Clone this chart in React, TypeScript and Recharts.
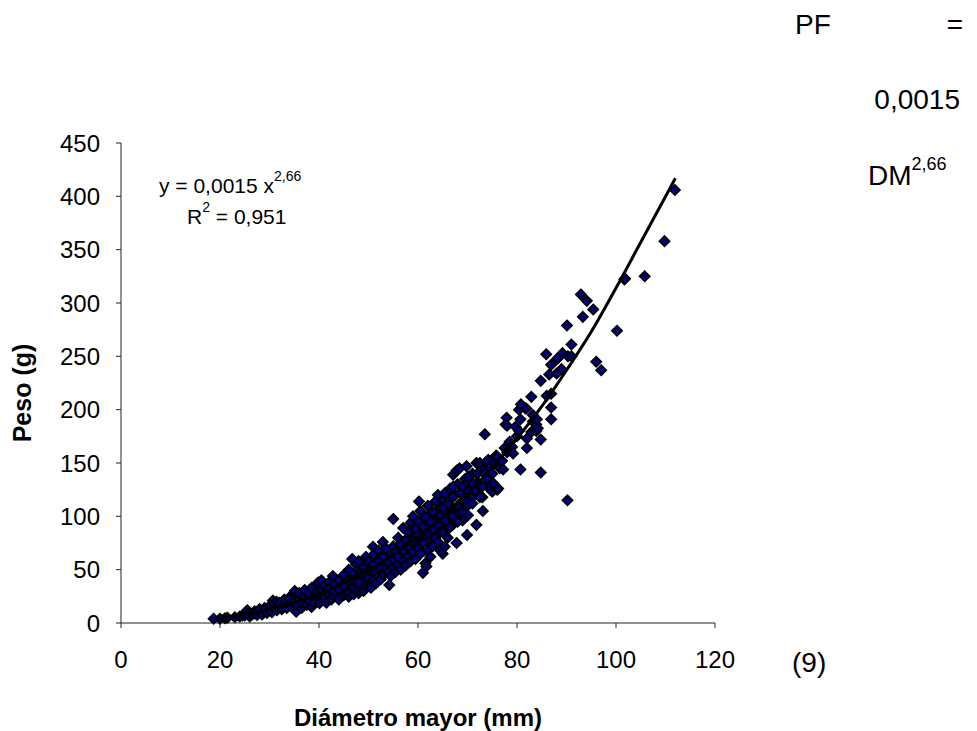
import React from 'react';
import { ScatterChart, Scatter, XAxis, YAxis } from 'recharts';

// Diámetro mayor (mm) vs Peso (g)
const puntosA: [number, number][] = [
  [18.7, 4], [20, 4], [21, 4.5], [21.5, 5], [23, 5.3], [24, 6], [24.5, 7], [25, 7], [25.3, 9], [25.5, 12],
  [26, 6], [26, 10], [26.5, 8], [27, 11], [27, 9], [27.5, 7.5], [28, 10], [28, 13], [28.5, 8], [29, 11],
  [29, 14], [29.5, 9.5], [30, 12], [30, 16], [30.5, 10], [30.7, 21], [31, 14], [31, 18],
];

const puntosB: [number, number][] = [
  [31.4, 20], [31.5, 12], [32, 15], [32, 19], [32.5, 13], [33, 17], [33, 22], [33.5, 14], [34, 18], [34, 24],
  [34.5, 15], [35, 20], [35, 27], [35.1, 30], [35.4, 10.6], [35.5, 17], [36, 22], [36, 28], [36.5, 14], [36.5, 19],
  [37, 25], [37.1, 31], [37.5, 17], [38, 21], [38, 27], [38.5, 33], [38.5, 15], [39, 24], [39, 19], [39.5, 29],
  [39.8, 38], [40, 22], [40, 26], [40.1, 18.5], [40.5, 40], [40.5, 31],
];

const puntosC: [number, number][] = [
  [41, 24], [41, 35], [41.5, 19], [41.5, 29], [42, 27], [42, 38], [42.5, 22], [42.5, 32], [42.8, 44], [43, 25],
  [43, 36], [43.5, 30], [44, 28], [44, 40], [44, 22], [44.5, 34], [45, 26], [45, 31], [45, 45], [45.5, 38],
  [46, 24.7], [46, 29], [46, 35], [46, 50], [46.5, 42], [46.7, 60], [47, 27], [47, 33], [47, 46], [47.5, 38],
  [47.5, 55], [48, 28], [48, 31], [48, 42], [48, 58], [48.5, 36], [48.5, 48], [49, 30], [49, 40], [49, 52],
  [49.5, 35], [49.5, 62], [50, 38], [50, 45], [50, 57], [50.5, 33], [50.5, 50], [50.9, 71.5],
];

const puntosD: [number, number][] = [
  [51, 40], [51, 55], [51, 64], [51.5, 37], [51.5, 47], [52, 44], [52, 58], [52, 68], [52.5, 41], [52.5, 52],
  [52.9, 76], [53, 46], [53, 62], [53.5, 50], [53.5, 70], [54, 48], [54, 57], [54.2, 35.6], [54.5, 64], [54.5, 44],
  [55, 52], [55, 60], [55, 72], [55, 97.5], [55.5, 48], [55.5, 67], [56, 55], [56, 62], [56, 80], [56.5, 50],
  [56.5, 74], [57, 58], [57, 68], [57, 89], [57.5, 54], [57.5, 78], [58, 62], [58, 72], [58, 85], [58.5, 58],
  [58.5, 94], [59, 66], [59, 77], [59, 100], [59.5, 60], [59.5, 88], [60, 70], [60, 82], [60, 95], [60.2, 114],
  [60.5, 65], [60.5, 105],
];

const puntosE: [number, number][] = [
  [61, 47], [61, 75], [61, 90], [61.5, 56], [61.5, 100], [61.7, 53], [62, 68], [62, 84], [62, 110], [62.5, 62],
  [62.5, 95], [63, 72], [63, 88], [63, 104], [63.5, 80], [63.5, 114], [64, 76], [64, 92], [64, 120], [64.5, 68],
  [64.5, 100], [65, 65], [65, 85], [65, 108], [65.4, 71.5], [65.4, 121.6], [65.5, 96], [66, 80], [66, 112], [66.5, 90],
  [66.5, 126], [67, 100], [67, 118], [67.1, 139], [67.1, 128], [67.8, 75], [67.8, 143], [68, 95], [68, 110], [68.4, 145],
  [68.5, 122], [69, 104], [69.1, 128], [69.5, 115], [69.8, 147], [69.9, 82.5], [70, 132], [70.1, 101], [70.1, 137],
];

const puntosF: [number, number][] = [
  [71, 112], [71.1, 131], [71.5, 124], [71.8, 92], [71.8, 150], [72, 140], [72.5, 118], [72.5, 150], [73, 128], [73.1, 105],
  [73.5, 140], [73.5, 177], [73.8, 151], [74, 135], [74.2, 153], [74.5, 146], [75, 123], [75, 140], [75.2, 131], [75.5, 150],
  [75.8, 157], [76, 125], [76, 156], [76.2, 126], [76.5, 145], [77, 152], [77.2, 144], [77.5, 164], [77.7, 186], [77.9, 192.5],
  [78, 185], [78, 160], [78.5, 170], [79, 165], [79.2, 159], [79.7, 184], [80, 175], [80.4, 180], [80.4, 200], [80.7, 144],
  [80.7, 191], [80.8, 205],
];

const puntosG: [number, number][] = [
  [81.7, 201], [81.9, 201], [82, 164], [82, 173], [82.9, 179], [82.9, 212], [83.2, 189], [83.2, 195], [83.9, 180], [83.9, 186],
  [84, 191], [84.2, 182.5], [84.8, 141], [84.8, 172], [84.8, 227], [85.9, 252], [86, 213], [86.5, 233], [86.9, 191], [86.9, 202],
  [86.9, 215], [86.9, 242], [88, 234], [88, 247], [88.2, 248], [89, 238], [89.2, 253], [90.2, 115], [90.1, 279], [90.3, 250],
  [91, 250], [91, 261], [92.9, 308], [93.3, 287], [94.1, 302], [95.4, 294], [96, 245], [97, 237], [100.2, 274], [101.7, 322],
  [101.8, 323], [105.8, 325], [109.8, 358], [111.9, 406],
];

// the dense middle of the band, where markers overlap
const puntosH: [number, number][] = [
  [42, 32], [43, 30], [44, 32], [45, 35], [46, 40], [47, 40], [48, 38], [49, 46], [50, 42], [51, 50],
  [52, 50], [53, 55], [54, 52], [54, 66], [55.5, 58], [56, 68], [56.5, 60], [57, 63], [57.5, 70], [58, 66],
  [58.5, 76], [59, 71], [59.5, 82], [60, 75], [60.5, 88], [61, 80], [61, 97], [61.5, 86], [62, 76], [62, 92],
  [62.5, 102], [63, 80], [63, 96], [63.5, 90], [64, 84], [64, 100], [64.5, 108], [65, 92], [65, 115], [65.5, 104],
  [66, 88], [66, 100], [66.5, 110], [67, 92], [67, 108], [67.5, 120], [68, 102], [68, 130], [68.5, 112], [69, 96],
  [69, 120], [69.5, 135], [70, 110], [70, 125], [71, 118], [71, 140], [72, 125], [72, 132], [73, 118], [73, 145],
  [74, 128], [74, 142],
];

// potential trend line
const curva: [number, number][] = [
  [19, 3.8], [25, 7.9], [30, 12.7], [35, 19], [40, 27], [45, 37.5], [50, 49.5], [55, 64], [60, 80.5], [65, 99.5],
  [70, 121], [75, 146], [80, 173], [85, 203], [90, 237], [95, 273], [100, 314], [105, 357], [112, 417],
];

const ticksX = [0, 20, 40, 60, 80, 100, 120];
const ticksY = [0, 50, 100, 150, 200, 250, 300, 350, 400, 450];

const toObj = (p: [number, number]) => ({ x: p[0], y: p[1] });
const puntos = [...puntosA, ...puntosB, ...puntosC, ...puntosH, ...puntosD, ...puntosE, ...puntosF, ...puntosG].map(toObj);
const lineaTendencia = curva.map(toObj);

const FONT = '"Liberation Sans", Arial, sans-serif';

const Rombo = (props: any) => {
  const { cx, cy } = props;
  if (cx == null || cy == null) return null;
  const r = 5;
  return (
    <polygon
      points={`${cx},${cy - r} ${cx + r},${cy} ${cx},${cy + r} ${cx - r},${cy}`}
      fill="#000080"
      stroke="#000"
      strokeWidth={1.8}
    />
  );
};

export default function App() {
  return (
    <div style={{ position: 'absolute', left: 0, top: 0, width: 977, height: 731, background: '#fff', fontFamily: FONT }}>
      <ScatterChart width={977} height={731} margin={{ top: 143, right: 262, bottom: 48, left: 0 }}>
        <XAxis
          type="number"
          dataKey="x"
          domain={[0, 120]}
          ticks={ticksX}
          height={60}
          tickSize={5}
          tickMargin={23}
          stroke="#222"
          tick={{ fill: '#000', fontSize: 24, fontFamily: FONT }}
        />
        <YAxis
          type="number"
          dataKey="y"
          domain={[0, 450]}
          ticks={ticksY}
          width={121}
          tickSize={5}
          tickMargin={16}
          stroke="#222"
          tick={{ fill: '#000', fontSize: 24, fontFamily: FONT }}
        />
        <Scatter data={puntos} shape={<Rombo />} isAnimationActive={false} />
        <Scatter
          data={lineaTendencia}
          line={{ stroke: '#000', strokeWidth: 3 }}
          lineJointType="monotoneX"
          shape={() => null}
          isAnimationActive={false}
        />
      </ScatterChart>
      <svg width={977} height={731} style={{ position: 'absolute', left: 0, top: 0, pointerEvents: 'none' }}>
        <g fontFamily={FONT} fill="#000">
          <text x={159} y={193} fontSize={21}>
            y = 0,0015 x<tspan dy={-12} fontSize={14}>2,66</tspan>
          </text>
          <text x={187} y={224} fontSize={21}>
            R<tspan dy={-12} fontSize={14}>2</tspan>
            <tspan dy={12}> = 0,951</tspan>
          </text>
          <text x={795} y={34} fontSize={28}>PF</text>
          <text x={963} y={34} fontSize={28} textAnchor="end">=</text>
          <text x={960} y={109} fontSize={28} textAnchor="end">0,0015</text>
          <text x={868} y={185} fontSize={28}>
            DM<tspan dy={-15} fontSize={18}>2,66</tspan>
          </text>
          <text x={792} y={672} fontSize={28}>(9)</text>
          <text x={418} y={726} fontSize={24} fontWeight="bold" textAnchor="middle">Diámetro mayor (mm)</text>
          <text x={31} y={393} fontSize={25} fontWeight="bold" textAnchor="middle" transform="rotate(-90 31 393)">Peso (g)</text>
        </g>
      </svg>
    </div>
  );
}
